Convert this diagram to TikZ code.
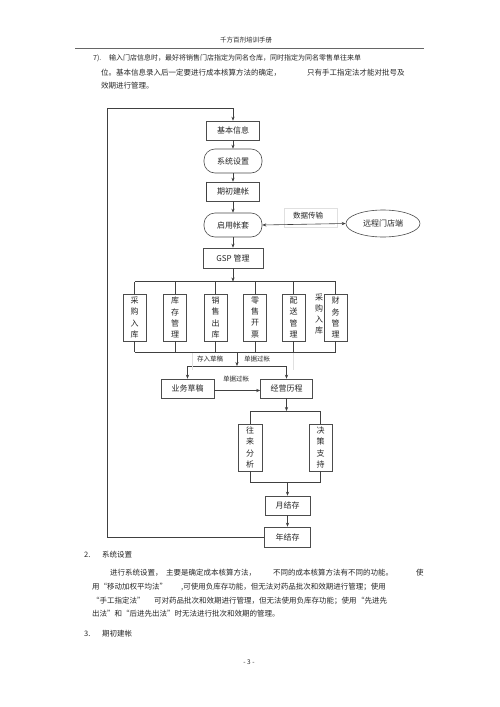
\documentclass[tikz,border=0pt]{standalone}
\usepackage{fontspec}
\setmainfont{Noto Sans CJK SC}
\usetikzlibrary{arrows.meta,shapes.geometric}
\tikzset{
  box/.style={draw=black!70, line width=0.6pt, rectangle, inner sep=0pt, font=\fontsize{8}{9}\selectfont, text=black!85},
  vbox/.style={box, minimum width=23pt, minimum height=47pt, align=center, font=\fontsize{8}{11.2}\selectfont},
  pill/.style={box, rounded corners=11pt},
  conn/.style={draw=black!75, line width=0.6pt},
  arr/.style={conn, -{Stealth[length=4pt,width=3.2pt]}},
  dblarr/.style={conn, {Stealth[length=4pt,width=3.2pt]}-{Stealth[length=4pt,width=3.2pt]}},
  lab/.style={font=\fontsize{6.5}{7}\selectfont, inner sep=0pt, text=black!85},
  faint/.style={draw=black!12, line width=0.5pt},
  body/.style={anchor=west, inner sep=0pt, font=\fontsize{7.5}{8}\selectfont, text=black!85},
}
\begin{document}
\begin{tikzpicture}[x=1pt,y=-1pt]
\useasboundingbox (0,0) rectangle (500,707);
\fill[white] (0,0) rectangle (500,707);

% header
\node[lab] (hdr) at (246,40) {千方百剂培训手册};
\draw[black!60, line width=0.6pt] (75,48) -- (424,48);

% intro text
\node[body, font=\fontsize{7}{7}\selectfont] (t1n) at (93,58) {7).};
\node[body, font=\fontsize{7}{7}\selectfont] (t1) at (109,58) {输入门店信息时，最好将销售门店指定为同名仓库，同时指定为同名零售单往来单};
\node[body] (t2a) at (101,73) {位。基本信息录入后一定要进行成本核算方法的确定，};
\node[body] (t2b) at (307,73) {只有手工指定法才能对批号及};
\node[body] (t3) at (101,86) {效期进行管理。};

% main chain
\node[box, minimum width=53pt, minimum height=19pt] (jb) at (233,130.5) {基本信息};
\node[pill, minimum width=58pt, minimum height=24pt] (xt) at (233,161) {系统设置};
\node[box, minimum width=53pt, minimum height=19pt] (qc) at (233,191.5) {期初建帐};
\node[pill, minimum width=58pt, minimum height=24pt] (qy) at (233,225) {启用帐套};
\node[box, draw=black!70, ellipse, minimum width=74pt, minimum height=27pt] (yc) at (383,223.5) {远程门店端};
\node[box, minimum width=60pt, minimum height=20pt] (gsp) at (233,258) {GSP 管理};

\draw[faint] (284,208) rectangle (337,227);
\node[lab, font=\fontsize{7.5}{8}\selectfont] (sjcs) at (308,216) {数据传输};

\draw[line width=1pt, black!75] (qc.north west) -- (qc.south west);

\draw[arr] (jb) -- (xt);
\draw[arr] (xt) -- (qc);
\draw[arr] (qc) -- (qy);
\draw[arr] (qy) -- (gsp);
\draw[dblarr] (qy.east) -- (yc.west);

% module columns
\node[vbox] (m1) at (134.5,317.5) {采\\购\\入\\库};
\node[vbox] (m2) at (175,317.5) {库\\存\\管\\理};
\node[vbox] (m3) at (215.5,317.5) {销\\售\\出\\库};
\node[vbox] (m4) at (255,317.5) {零\\售\\开\\票};
\node[vbox] (m5) at (293.5,317.5) {配\\送\\管\\理};
\node[vbox] (m6) at (335.5,317.5) {财\\务\\管\\理};
\node[align=center, inner sep=0pt, font=\fontsize{8}{11.2}\selectfont, text=black!85] (m6x) at (319,314) {采\\购\\入\\库};

\coordinate (bt) at (233,281.5);
\coordinate (bt1) at (134.5,281.5);
\coordinate (bt6) at (335.5,281.5);
\draw[arr] (gsp) -- (bt);
\draw[conn] (bt1) -- (bt6);
\foreach \m in {m1,m2,m3,m4,m5,m6} {\draw[conn] (\m.north) -- (\m.north |- bt);}

\coordinate (bb1) at (134.5,352);
\coordinate (bb6) at (335.5,352);
\coordinate (bbm) at (237,352);
\draw[conn] (bb1) -- (bb6);
\foreach \m in {m1,m2,m3,m4,m5,m6} {\draw[conn] (\m.south) -- (\m.south |- bb1);}

\node[box, minimum width=53pt, minimum height=19pt] (yw) at (187.5,388.5) {业务草稿};
\node[box, minimum width=52pt, minimum height=19pt] (jy) at (286.5,388.5) {经营历程};

\coordinate (hm) at (237,366);
\coordinate (hl) at (187.5,366);
\coordinate (hr) at (286.5,366);
\draw[arr] (bbm) -- (hm);
\draw[conn] (hl) -- (hr);
\draw[arr] (hl) -- (yw);
\draw[arr] (hr) -- (jy);
\draw[faint] (192,353) -- (192,370);
\draw[faint] (293,353) -- (293,370);
\node[lab] (crcg) at (210,359) {存入草稿};
\node[lab] (djgz1) at (257,359) {单据过帐};

\draw[arr] ([yshift=-2pt]yw.east) -- ([yshift=-2pt]jy.west);
\node[lab] (djgz2) at (236,379) {单据过帐};

% analysis
\node[vbox, minimum width=24pt] (wl) at (250,447.5) {往\\来\\分\\析};
\node[vbox] (jc) at (320.5,447.5) {决\\策\\支\\持};
\coordinate (at) at (286.5,411);
\draw[arr] (jy) -- (at);
\draw[conn] (wl.north |- at) -- (jc.north |- at);
\draw[conn] (wl.north |- at) -- (wl.north);
\draw[conn] (jc.north |- at) -- (jc.north);

\coordinate (ab) at (287.5,482);
\draw[conn] (wl.south) -- (wl.south |- ab) -- (jc.south |- ab) -- (jc.south);

\node[box, minimum width=45pt, minimum height=19pt] (yj) at (287.5,505.5) {月结存};
\node[box, minimum width=46pt, minimum height=20pt] (nj) at (287.5,537) {年结存};
\draw[arr] (ab) -- (yj);
\draw[arr] (yj) -- (nj);

\coordinate (lb) at (107,537);
\coordinate (lt) at (107,108);
\coordinate (lj) at (233,108);
\draw[conn] (nj.west) -- (lb) -- (lt) -- (lj);
\draw[arr] (lj) -- (jb);

% lower text
\node[body] (s2n) at (84,555) {2.};
\node[body] (s2) at (102,555) {系统设置};
\node[body] (p1a) at (110,573) {进行系统设置，};
\node[body] (p1b) at (166,573) {主要是确定成本核算方法，};
\node[body] (p1c) at (273,573) {不同的成本核算方法有不同的功能。};
\node[body] (p1d) at (416,573) {使};
\node[body] (p2a) at (92,587) {用“移动加权平均法”};
\node[body] (p2b) at (181,587) {,可使用负库存功能，但无法对药品批次和效期进行管理；使用};
\node[body] (p3a) at (92,601) {“手工指定法”};
\node[body] (p3b) at (154,601) {可对药品批次和效期进行管理，但无法使用负库存功能；使用};
\node[body] (p3c) at (357,601) {“先进先};
\node[body] (p4) at (92,614) {出法”和“后进先出法”时无法进行批次和效期的管理。};
\node[body] (s3n) at (84,634) {3.};
\node[body] (s3) at (102,634) {期初建帐};
\node[lab] (pg) at (249,662) {- 3 -};
\end{tikzpicture}
\end{document}
